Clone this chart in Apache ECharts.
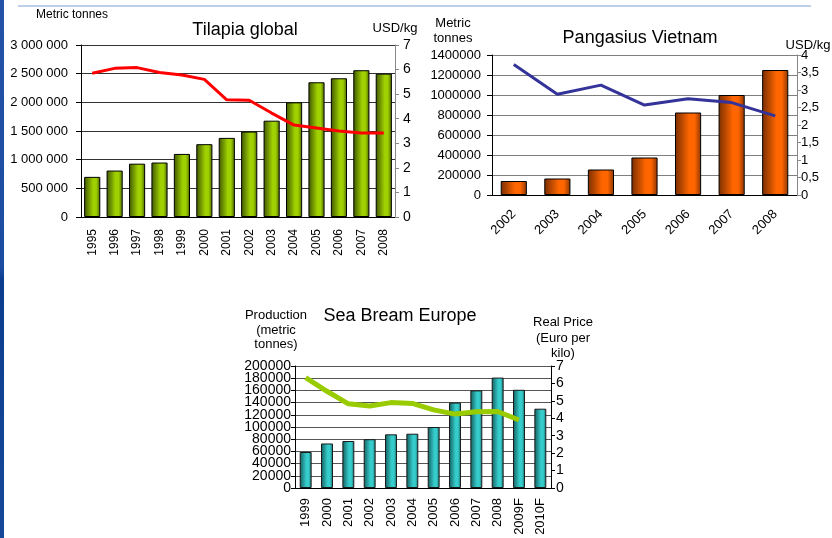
<!DOCTYPE html>
<html>
<head>
<meta charset="utf-8">
<style>
  html, body { margin: 0; padding: 0; background: #fff; }
  #chart { width: 832px; height: 538px; }
</style>
<script src="https://cdn.jsdelivr.net/npm/echarts@6/dist/echarts.min.js"></script>
</head>
<body>
<div id="chart"></div>
<script>
// Tilapia global
var tilYears = ['1995','1996','1997','1998','1999','2000','2001','2002','2003','2004','2005','2006','2007','2008'];
var tilProd = [700000, 810000, 930000, 950000, 1100000, 1270000, 1380000, 1490000, 1680000, 2000000, 2350000, 2420000, 2560000, 2500000];
var tilPrice = [5.85, 6.05, 6.08, 5.88, 5.78, 5.6, 4.77, 4.75, 4.23, 3.74, 3.62, 3.5, 3.42, 3.42];

// Pangasius Vietnam
var panYears = ['2002','2003','2004','2005','2006','2007','2008'];
var panProd = [140000, 165000, 255000, 375000, 825000, 1000000, 1250000];
var panPrice = [3.73, 2.88, 3.14, 2.57, 2.75, 2.64, 2.26];

// Sea Bream Europe
var seaYears = ['1999','2000','2001','2002','2003','2004','2005','2006','2007','2008','2009F','2010F'];
var seaProd = [59000, 73000, 77000, 80000, 88000, 89000, 100000, 140000, 160000, 181000, 161000, 130000];
var seaPrice = [6.33, 5.55, 4.83, 4.7, 4.9, 4.85, 4.48, 4.24, 4.37, 4.39, 3.9, null];

var FONT = 'Liberation Sans, Arial, sans-serif';

// cylinder-like shading
function barFill(dark, light, dark2) {
  return {
    type: 'linear', x: 0, y: 0, x2: 1, y2: 0,
    colorStops: [
      { offset: 0, color: dark },
      { offset: 0.55, color: light },
      { offset: 0.75, color: light },
      { offset: 1, color: dark2 }
    ]
  };
}

function spaced(v) {
  return String(v).replace(/\B(?=(\d{3})+(?!\d))/g, ' ');
}
function plain(v) { return String(v); }
// sea bream labels are packed tightly: split them over two axes so none get hidden
function evenStep(v) { return (v / 20000) % 2 === 0 ? String(v) : ''; }
function oddStep(v) { return (v / 20000) % 2 === 1 ? String(v) : ''; }

var txt = function (x, y, text, size, lh) {
  return {
    type: 'text', x: x, y: y,
    style: {
      text: text, fill: '#000', font: size + 'px ' + FONT,
      align: 'center', verticalAlign: 'middle', lineHeight: lh || size
    }
  };
};

var chart = echarts.init(document.getElementById('chart'));

var option = {
  backgroundColor: '#fff',
  animation: false,
  textStyle: { fontFamily: FONT, color: '#000' },
  graphic: [
    // slide decorations
    { type: 'rect', shape: { x: 0, y: 0, width: 4, height: 538 },
      style: { fill: { type: 'linear', x: 0, y: 0, x2: 0, y2: 1,
        colorStops: [{ offset: 0, color: '#2352a6' }, { offset: 0.5, color: '#1c4c9f' }, { offset: 0.52, color: '#0c3c8e' }, { offset: 1, color: '#16489a' }] } } },
    { type: 'line', shape: { x1: 18, y1: 6, x2: 811, y2: 6 }, style: { stroke: '#7c9fd2', lineWidth: 1 } },
    // titles
    txt(245, 30, 'Tilapia global', 18),
    txt(640, 38, 'Pangasius Vietnam', 18),
    txt(400, 316, 'Sea Bream Europe', 18),
    // axis captions
    txt(72, 15, 'Metric tonnes', 12),
    txt(395, 28, 'USD/kg', 13),
    txt(453, 31, 'Metric\ntonnes', 13, 15),
    txt(808, 45, 'USD/kg', 13),
    txt(276, 330, 'Production\n(metric\ntonnes)', 13, 14.3),
    txt(563, 338, 'Real Price\n(Euro per\nkilo)', 13, 15.5)
  ],
  grid: [
    { left: 81, right: 437, top: 45, bottom: 321 },
    { left: 492, right: 35, top: 55, bottom: 343 },
    { left: 295, right: 281, top: 366, bottom: 50 }
  ],
  xAxis: [
    { type: 'category', gridIndex: 0, data: tilYears,
      axisLine: { lineStyle: { color: '#000' } },
      axisTick: { length: 5, lineStyle: { color: '#000' } },
      axisLabel: { rotate: 90, margin: 12, fontSize: 12, color: '#000' } },
    { type: 'category', gridIndex: 1, data: panYears,
      axisLine: { lineStyle: { color: '#000' } },
      axisTick: { length: 5, lineStyle: { color: '#000' } },
      axisLabel: { rotate: 45, margin: 17, fontSize: 13, color: '#000' } },
    { type: 'category', gridIndex: 2, data: seaYears,
      axisLine: { lineStyle: { color: '#000' } },
      axisTick: { length: 5, lineStyle: { color: '#000' } },
      axisLabel: { rotate: 90, margin: 10, fontSize: 13, color: '#000' } }
  ],
  yAxis: [
    { type: 'value', gridIndex: 0, min: 0, max: 3000000, interval: 500000,
      axisLine: { show: true, lineStyle: { color: '#000' } },
      axisTick: { show: true, length: 5, lineStyle: { color: '#000' } },
      splitLine: { lineStyle: { color: '#333', width: 1 } },
      axisLabel: { margin: 13, fontSize: 13, color: '#000', formatter: spaced } },
    { type: 'value', gridIndex: 0, position: 'right', min: 0, max: 7, interval: 1,
      axisLine: { show: true, lineStyle: { color: '#888' } },
      axisTick: { show: true, length: 4, lineStyle: { color: '#888' } },
      splitLine: { show: false },
      axisLabel: { margin: 8, fontSize: 14, color: '#000' } },
    { type: 'value', gridIndex: 1, min: 0, max: 1400000, interval: 200000,
      axisLine: { show: true, lineStyle: { color: '#000' } },
      axisTick: { show: true, length: 5, lineStyle: { color: '#000' } },
      splitLine: { lineStyle: { color: '#7f7f7f', width: 1 } },
      axisLabel: { margin: 11, fontSize: 13, color: '#000', formatter: plain } },
    { type: 'value', gridIndex: 1, position: 'right', min: 0, max: 4, interval: 0.5,
      axisLine: { show: true, lineStyle: { color: '#888' } },
      axisTick: { show: true, length: 4, lineStyle: { color: '#888' } },
      splitLine: { show: false },
      axisLabel: { margin: 4, fontSize: 13, color: '#000',
        formatter: function (v) { return String(v).replace('.', ','); } } },
    { type: 'value', gridIndex: 2, min: 0, max: 200000, interval: 20000,
      axisLine: { show: true, lineStyle: { color: '#000' } },
      axisTick: { show: true, length: 4, lineStyle: { color: '#000' } },
      splitLine: { lineStyle: { color: '#555', width: 1 } },
      axisLabel: { margin: 4, fontSize: 14, color: '#000', formatter: evenStep,
        showMinLabel: true, showMaxLabel: true } },
    { type: 'value', gridIndex: 2, position: 'right', min: 0, max: 7, interval: 1,
      axisLine: { show: true, lineStyle: { color: '#000' } },
      axisTick: { show: true, length: 4, lineStyle: { color: '#000' } },
      splitLine: { show: false },
      axisLabel: { margin: 5, fontSize: 14, color: '#000', showMinLabel: true, showMaxLabel: true } },
    { type: 'value', gridIndex: 2, position: 'left', offset: 0, min: 0, max: 200000, interval: 20000,
      axisLine: { show: false }, axisTick: { show: false }, splitLine: { show: false },
      axisLabel: { margin: 4, fontSize: 14, color: '#000', formatter: oddStep } }
  ],
  series: [
    { type: 'bar', xAxisIndex: 0, yAxisIndex: 0, data: tilProd, barWidth: '72%',
      itemStyle: { color: barFill('#3e5500', '#9fd000', '#4a6400'), borderColor: '#000', borderWidth: 1 } },
    { type: 'line', xAxisIndex: 0, yAxisIndex: 1, data: tilPrice, showSymbol: false, symbol: 'none',
      lineStyle: { color: '#ff0000', width: 3 }, z: 5 },
    { type: 'bar', xAxisIndex: 1, yAxisIndex: 2, data: panProd, barWidth: '60%',
      itemStyle: { color: barFill('#7a2e00', '#ff6600', '#8a3500'), borderColor: '#000', borderWidth: 1 } },
    { type: 'line', xAxisIndex: 1, yAxisIndex: 3, data: panPrice, showSymbol: false, symbol: 'none',
      lineStyle: { color: '#333399', width: 3 }, z: 5 },
    { type: 'bar', xAxisIndex: 2, yAxisIndex: 4, data: seaProd, barWidth: '56%',
      itemStyle: { color: barFill('#135c5c', '#36cccc', '#1b6d6d'), borderColor: '#1a1a1a', borderWidth: 1 } },
    { type: 'line', xAxisIndex: 2, yAxisIndex: 5, data: seaPrice, showSymbol: false, symbol: 'none',
      connectNulls: false, lineStyle: { color: '#99cc00', width: 5 }, z: 5 }
  ]
};

chart.setOption(option);
</script>
</body>
</html>
